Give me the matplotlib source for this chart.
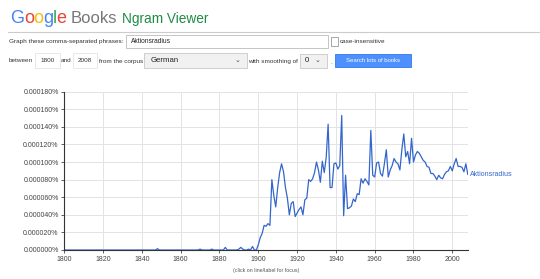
import matplotlib
matplotlib.use("Agg")
import matplotlib.pyplot as plt
from matplotlib.patches import Rectangle
from matplotlib.ticker import FuncFormatter, MultipleLocator

plt.rcParams['font.family'] = ['Liberation Sans', 'DejaVu Sans']

W, H = 540, 279

phrase = "Aktionsradius"
corpus = "German"
year_start = 1800
year_end = 2008
smoothing = "0"

# values in millionths of a percent (0.000001%), one per year
vals_1800_1849 = [0, 0, 0, 0, 0, 0, 0, 0, 0, 0,
                  0, 0, 0, 0, 0, 0, 0, 0, 0, 0,
                  0, 0, 0, 0, 0, 0, 0, 0, 0, 0,
                  0, 0, 0, 0, 0, 0, 0, 0, 0, 0,
                  0, 0, 0, 0, 0, 0, 0, 0, 1.5, 0]
vals_1850_1899 = [0, 0, 0, 0, 0, 0, 0, 0, 0, 0,
                  0, 0, 0, 0, 0, 0, 0, 0, 0, 0,
                  1, 0, 0, 0, 0, 0, 1, 0, 0, 0,
                  0, 0, 0, 3, 0, 0, 0, 0, 0, 0,
                  1, 3, 1, 0, 0, 1, 0, 4, 0, 0]
vals_1900_1949 = [6, 14, 19, 28, 27, 30, 28, 80, 62, 49,
                  71, 88, 98, 89, 71, 59, 40, 53, 55, 38,
                  42, 46, 49, 40, 57, 59, 80, 78, 81, 88,
                  100, 91, 77, 101, 88, 105, 143, 71, 71, 98,
                  99, 92, 96, 153, 39, 85, 47, 48, 50, 58]
vals_1950_2008 = [55, 64, 63, 81, 76, 81, 78, 74, 136, 85,
                  83, 99, 100, 87, 84, 98, 114, 83, 91, 96,
                  104, 100, 98, 91, 114, 132, 106, 112, 98, 127,
                  100, 108, 112, 110, 106, 102, 100, 95, 94, 87,
                  87, 84, 80, 85, 82, 81, 86, 89, 90, 95,
                  90, 98, 104, 95, 95, 94, 89, 98, 86]

values = vals_1800_1849 + vals_1850_1899 + vals_1900_1949 + vals_1950_2008
years = list(range(year_start, year_start + len(values)))
values_pct = [v * 1e-6 for v in values]

line_blue = "#3366cc"
txt_grey = "#333333"

fig = plt.figure(figsize=(W / 100, H / 100), dpi=100)


def fx(x):
    return x / W


def fy(y):
    return 1 - y / H


def box(x0, y0, x1, y1, fc="white", ec="#cccccc", lw=0.6):
    fig.patches.append(Rectangle((fx(x0), fy(y1)), fx(x1) - fx(x0), fy(y0) - fy(y1),
                                 transform=fig.transFigure, facecolor=fc,
                                 edgecolor=ec, linewidth=lw))


def label(x, y, s, size=4.6, color=txt_grey, ha="left", **kw):
    return fig.text(fx(x), fy(y), s, fontsize=size, color=color, ha=ha, va="center", **kw)


# header logo, one letter at a time
logo = [("G", "#4285f4", 10), ("o", "#ea4335", 24), ("o", "#fbbc05", 33.5),
        ("g", "#4285f4", 43), ("l", "#34a853", 53), ("e", "#ea4335", 56.5)]
for ch, col, x in logo:
    fig.text(fx(x), fy(23), ch, fontsize=13, color=col, va="baseline")
fig.text(fx(71), fy(23), "Books", fontsize=12, color="#777777", va="baseline")
fig.text(fx(122), fy(23), "Ngram Viewer", fontsize=9.8, color="#1e8c45", va="baseline")
fig.add_artist(plt.Line2D([fx(8), fx(540)], [fy(31.5), fy(31.5)], color="#cccccc",
                          lw=0.8, transform=fig.transFigure))

# row 1
label(9, 41.5, "Graph these comma-separated phrases:")
box(126, 35, 328, 48, ec="#bbbbbb")
label(131, 41.5, phrase, size=4.8, color="#222222")
box(331, 37.5, 338, 45.5, ec="#999999")
label(340, 41.5, "case-insensitive")

# row 2
label(9, 61, "between")
box(35, 53, 60, 68, ec="#e4e4e4")
label(47.5, 61, str(year_start), ha="center")
label(61, 61, "and")
box(73, 53, 97, 68, ec="#e4e4e4")
label(85, 61, str(year_end), ha="center")
label(99, 61, "from the corpus")
box(144, 53, 247, 68, fc="#f1f1f1", ec="#c8c8c8")
label(151, 60.5, corpus, size=5.6, color="#222222")
label(238, 60.5, "\u2304", size=5, color="#444444", ha="center")
label(248.5, 61, "with smoothing of")
box(300, 53.5, 327, 68, fc="#f1f1f1", ec="#c8c8c8")
label(307, 60.5, smoothing, size=5.6, color="#222222", ha="center")
label(318, 60.5, "\u2304", size=5, color="#444444", ha="center")
label(330, 62, ".", size=4.6)
box(335, 54, 411, 67, fc="#4d90fe", ec="#3079ed")
label(373, 60.5, "Search lots of books", size=4.3, color="white", ha="center")

# chart
ax = fig.add_axes([fx(64.3), fy(250), fx(467.8) - fx(64.3), fy(91.7) - fy(250)])
ax.plot(years, values_pct, color=line_blue, lw=0.9)
ax.set_xlim(year_start, year_end)
ax.set_ylim(0, 0.00018)
ax.xaxis.set_major_locator(MultipleLocator(20))
ax.yaxis.set_major_locator(MultipleLocator(0.00002))
ax.yaxis.set_major_formatter(FuncFormatter(lambda v, p: f"{v:.6f}%"))
ax.grid(True, color="#e3e3e3", lw=0.7)
ax.set_axisbelow(True)
for s in ["top", "right"]:
    ax.spines[s].set_visible(False)
for s in ["left", "bottom"]:
    ax.spines[s].set_color("#333333")
    ax.spines[s].set_linewidth(0.8)
ax.tick_params(axis="both", labelsize=5, colors="#444444", length=2.5, width=0.6, pad=1.5)
ax.text(year_end + 1, values_pct[-1], phrase, color=line_blue, fontsize=5,
        va="center", ha="left", clip_on=False)

label(266, 270.5, "(click on line/label for focus)", size=3.8, color="#555555", ha="center")

fig.savefig("out.png", dpi=100)
